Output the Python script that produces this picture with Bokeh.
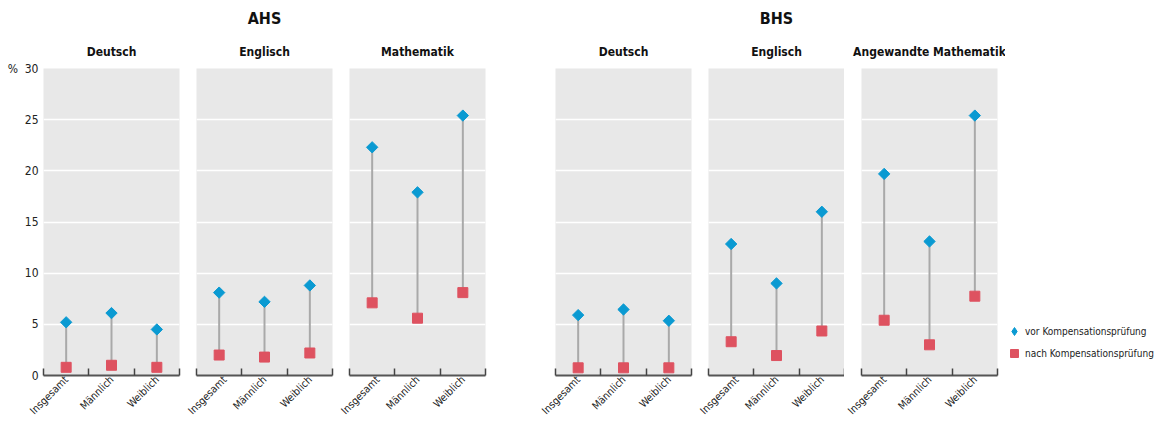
import math
from bokeh.plotting import figure
from bokeh.models import Range1d, FixedTicker, Title, Legend, LegendItem
from bokeh.layouts import row
from bokeh.embed import file_html
from bokeh.resources import INLINE

FONT = "'DejaVu Sans Condensed', 'Liberation Sans Narrow', Roboto, sans-serif"

categories = ["Insgesamt", "Männlich", "Weiblich"]
y_ticks = [0, 5, 10, 15, 20, 25, 30]

groups = ["AHS", "BHS"]
ahs_subjects = ["Deutsch", "Englisch", "Mathematik"]
bhs_subjects = ["Deutsch", "Englisch", "Angewandte Mathematik"]

# vor Kompensationsprüfung
ahs_deutsch_vor = [5.2, 6.1, 4.5]
ahs_englisch_vor = [8.1, 7.2, 8.8]
ahs_mathe_vor = [22.3, 17.9, 25.4]
bhs_deutsch_vor = [5.9, 6.45, 5.35]
bhs_englisch_vor = [12.85, 9.0, 16.0]
bhs_mathe_vor = [19.7, 13.1, 25.4]

# nach Kompensationsprüfung
ahs_deutsch_nach = [0.8, 1.0, 0.8]
ahs_englisch_nach = [2.0, 1.8, 2.2]
ahs_mathe_nach = [7.1, 5.6, 8.1]
bhs_deutsch_nach = [0.75, 0.75, 0.75]
bhs_englisch_nach = [3.3, 1.95, 4.35]
bhs_mathe_nach = [5.4, 3.0, 7.75]

legend_labels = ["vor Kompensationsprüfung", "nach Kompensationsprüfung"]
unit_label = "%"

BLUE = "#0a9ad2"
RED = "#de5260"
BG = "#e8e8e8"
H = 423


def panel(subject, vor, nach, left, right, group=None, yaxis=False):
    p = figure(width=left + 136 + right, height=H,
               x_range=Range1d(0, len(categories)), y_range=Range1d(0, 30),
               output_backend="svg", toolbar_location=None,
               min_border_left=left, min_border_right=right,
               min_border_top=68, min_border_bottom=46,
               background_fill_color=BG, border_fill_color="white",
               outline_line_color=None)
    p.add_layout(Title(text=subject, align="center", text_font=FONT,
                       text_font_size="12px", text_font_style="bold",
                       text_color="#111111", standoff=19), "above")
    if group:
        p.add_layout(Title(text=group, align="center", text_font=FONT,
                           text_font_size="16px", text_font_style="bold",
                           text_color="#111111", standoff=12), "above")
    xs = [i + 0.5 for i in range(len(categories))]
    p.segment(x0=xs, y0=nach, x1=xs, y1=vor, line_color="#a9a9a9", line_width=2)
    p.scatter(xs, vor, marker="square", angle=math.pi / 4, size=8,
              fill_color=BLUE, line_color=BLUE)
    p.scatter(xs, nach, marker="square", size=10, fill_color=RED, line_color=RED)

    # x axis
    xa = p.xaxis[0]
    xa.ticker = FixedTicker(ticks=xs, minor_ticks=list(range(len(categories) + 1)))
    xa.major_label_overrides = {x: c for x, c in zip(xs, categories)}
    xa.major_label_orientation = math.pi / 4
    xa.major_tick_line_color = None
    xa.major_tick_out = 0
    xa.major_tick_in = 0
    xa.minor_tick_line_color = "#444444"
    xa.minor_tick_line_width = 1.5
    xa.minor_tick_in = 7
    xa.minor_tick_out = 0
    xa.axis_line_color = "#555555"
    xa.axis_line_width = 2
    xa.major_label_text_font = FONT
    xa.major_label_text_font_size = "10.5px"
    xa.major_label_text_line_height = 0.8
    xa.major_label_text_color = "#222222"
    xa.major_label_standoff = 2

    ya = p.yaxis[0]
    ya.ticker = FixedTicker(ticks=y_ticks)
    if yaxis:
        ya.major_label_overrides = {y_ticks[-1]: unit_label + "\u00a0\u00a0" + str(y_ticks[-1])}
        ya.axis_line_color = None
        ya.major_tick_line_color = None
        ya.major_tick_out = 0
        ya.major_tick_in = 0
        ya.minor_tick_line_color = None
        ya.major_label_text_font = FONT
        ya.major_label_text_font_size = "12px"
        ya.major_label_text_color = "#222222"
        ya.major_label_standoff = 5
    else:
        ya.visible = False
    p.xgrid.visible = False
    p.ygrid.grid_line_color = "white"
    p.ygrid.grid_line_width = 1.5
    return p


def legend_fig(width):
    p = figure(width=width, height=H, x_range=Range1d(0, 1), y_range=Range1d(0, 1),
               output_backend="svg", toolbar_location=None,
               min_border_left=0, min_border_right=0, min_border_top=0,
               min_border_bottom=0, background_fill_color="white",
               border_fill_color="white", outline_line_color=None)
    p.xaxis.visible = False
    p.yaxis.visible = False
    p.xgrid.visible = False
    p.ygrid.visible = False
    # legend proxies only (no visible data)
    nan = [float("nan")]
    r_vor = p.scatter(nan, nan, marker="diamond", size=10,
                      fill_color=BLUE, line_color=BLUE)
    r_nach = p.scatter(nan, nan, marker="square", size=10,
                       fill_color=RED, line_color=RED)
    lg = Legend(items=[LegendItem(label=legend_labels[0], renderers=[r_vor]),
                       LegendItem(label=legend_labels[1], renderers=[r_nach])],
                location=(-1, 11), border_line_color=None,
                background_fill_alpha=0, label_text_font=FONT,
                label_text_font_size="10px", label_text_color="#222222",
                glyph_width=20, glyph_height=22, spacing=0, padding=0,
                margin=0, label_standoff=1)
    p.add_layout(lg, "center")
    return p


figs = [
    panel(ahs_subjects[0], ahs_deutsch_vor, ahs_deutsch_nach, 43, 6, yaxis=True),
    panel(ahs_subjects[1], ahs_englisch_vor, ahs_englisch_nach, 11, 6, group=groups[0]),
    panel(ahs_subjects[2], ahs_mathe_vor, ahs_mathe_nach, 11, 35),
    panel(bhs_subjects[0], bhs_deutsch_vor, bhs_deutsch_nach, 35, 6),
    panel(bhs_subjects[1], bhs_englisch_vor, bhs_englisch_nach, 11, 0, group=groups[1]),
    panel(bhs_subjects[2], bhs_mathe_vor, bhs_mathe_nach, 17, 8),
    legend_fig(150),
]

layout = row(*figs, spacing=0)
open("out.html", "w").write(file_html(layout, INLINE))
